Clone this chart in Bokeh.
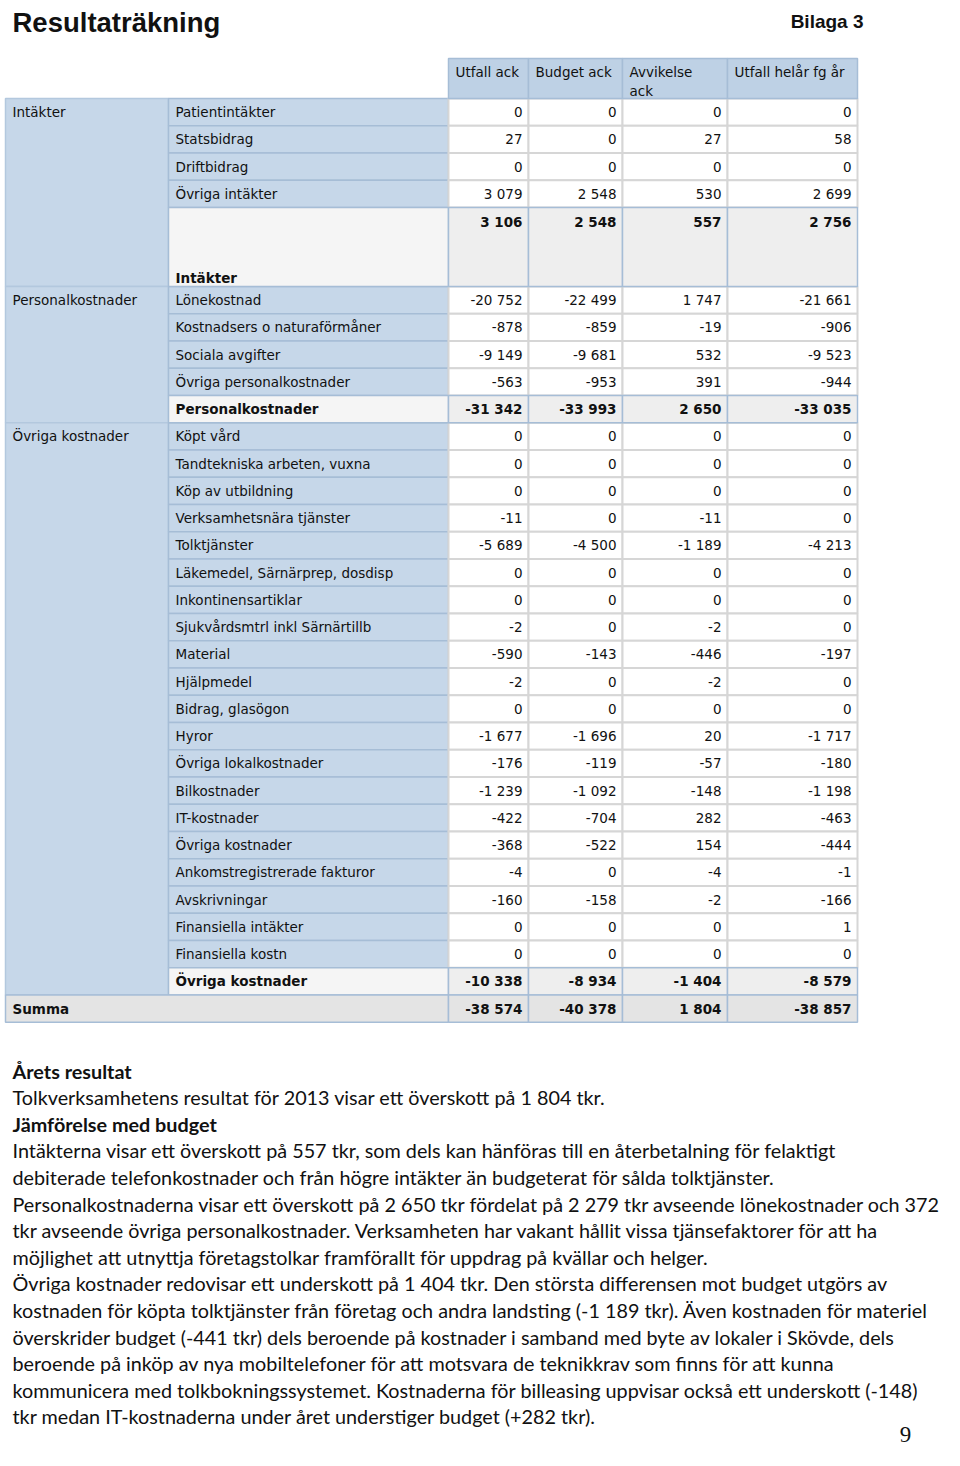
from bokeh.plotting import figure
from bokeh.models import ColumnDataSource, Range1d
from bokeh.core.properties import value
from bokeh.embed import file_html
from bokeh.resources import INLINE

# ---------------- data ----------------
TITLE = "Resultaträkning"
APPENDIX = "Bilaga 3"
PAGE_NO = "9"

column_headers = [["Utfall ack"], ["Budget ack"], ["Avvikelse", "ack"], ["Utfall helår fg år"]]

groups = ["Intäkter", "Personalkostnader", "Övriga kostnader"]

row_labels = [
    "Patientintäkter", "Statsbidrag", "Driftbidrag", "Övriga intäkter", "Intäkter",
    "Lönekostnad", "Kostnadsers o naturaförmåner", "Sociala avgifter", "Övriga personalkostnader", "Personalkostnader",
    "Köpt vård", "Tandtekniska arbeten, vuxna", "Köp av utbildning", "Verksamhetsnära tjänster", "Tolktjänster",
    "Läkemedel, Särnärprep, dosdisp", "Inkontinensartiklar", "Sjukvårdsmtrl inkl Särnärtillb", "Material",
    "Hjälpmedel", "Bidrag, glasögon", "Hyror", "Övriga lokalkostnader", "Bilkostnader", "IT-kostnader",
    "Övriga kostnader", "Ankomstregistrerade fakturor", "Avskrivningar", "Finansiella intäkter",
    "Finansiella kostn", "Övriga kostnader",
]
row_group = [0] * 5 + [1] * 5 + [2] * 21
row_is_sum = [False] * 4 + [True] + [False] * 4 + [True] + [False] * 20 + [True]

utfall_ack = [0, 27, 0, 3079, 3106,
              -20752, -878, -9149, -563, -31342,
              0, 0, 0, -11, -5689, 0, 0, -2, -590, -2, 0, -1677, -176, -1239, -422, -368, -4, -160, 0, 0, -10338]
budget_ack = [0, 0, 0, 2548, 2548,
              -22499, -859, -9681, -953, -33993,
              0, 0, 0, 0, -4500, 0, 0, 0, -143, 0, 0, -1696, -119, -1092, -704, -522, 0, -158, 0, 0, -8934]
avvikelse_ack = [0, 27, 0, 530, 557,
                 1747, -19, 532, 391, 2650,
                 0, 0, 0, -11, -1189, 0, 0, -2, -446, -2, 0, 20, -57, -148, 282, 154, -4, -2, 0, 0, -1404]
utfall_helar_fg_ar = [0, 58, 0, 2699, 2756,
                      -21661, -906, -9523, -944, -33035,
                      0, 0, 0, 0, -4213, 0, 0, 0, -197, 0, 0, -1717, -180, -1198, -463, -444, -1, -166, 1, 0, -8579]

summa_label = "Summa"
summa_values = [-38574, -40378, 1804, -38857]

body_lines = [
    ("Årets resultat", True),
    ("Tolkverksamhetens resultat för 2013 visar ett överskott på 1 804 tkr.", False),
    ("Jämförelse med budget", True),
    ("Intäkterna visar ett överskott på 557 tkr, som dels kan hänföras till en återbetalning för felaktigt", False),
    ("debiterade telefonkostnader och från högre intäkter än budgeterat för sålda tolktjänster.", False),
    ("Personalkostnaderna visar ett överskott på 2 650 tkr fördelat på 2 279 tkr avseende lönekostnader och 372", False),
    ("tkr avseende övriga personalkostnader. Verksamheten har vakant hållit vissa tjänsefaktorer för att ha", False),
    ("möjlighet att utnyttja företagstolkar framförallt för uppdrag på kvällar och helger.", False),
    ("Övriga kostnader redovisar ett underskott på 1 404 tkr. Den största differensen mot budget utgörs av", False),
    ("kostnaden för köpta tolktjänster från företag och andra landsting (-1 189 tkr). Även kostnaden för materiel", False),
    ("överskrider budget (-441 tkr) dels beroende på kostnader i samband med byte av lokaler i Skövde, dels", False),
    ("beroende på inköp av nya mobiltelefoner för att motsvara de teknikkrav som finns för att kunna", False),
    ("kommunicera med tolkbokningssystemet. Kostnaderna för billeasing uppvisar också ett underskott (-148)", False),
    ("tkr medan IT-kostnaderna under året understiger budget (+282 tkr).", False),
]

# ---------------- layout ----------------
W, H = 944, 1450
X_GROUP, X_LABEL = 5, 168
COL_EDGES = [448, 528, 622, 727, 857]
HEADER_TOP, HEADER_BOT = 58, 98
ROW_H = 27.25
TALL_ROWS = {4}
TALL_H = 79

TFONT = value("DejaVu Sans")
TSIZE = value("13.5px")
BFONT = value("Lato")
BSIZE = value("19.8px")

BLUE = "#c6d7e9"
BLUE_LINE = "#a6bdd6"
GROUP_LINE = "#b3c8de"
HEAD_BLUE = "#bed1e5"
GRAY_SUM_LABEL = "#f5f5f5"
GRAY_SUM = "#eeeeee"
GRAY_TOT = "#e4e4e4"
GRID_GRAY = "#d6d6d6"
TXT = "#111111"


def fmt(v):
    s = f"{abs(v):,}".replace(",", " ")
    return ("-" if v < 0 else "") + s


p = figure(width=W, height=H, output_backend="svg", toolbar_location=None,
           x_range=Range1d(0, W), y_range=Range1d(H, 0),
           x_axis_type=None, y_axis_type=None, min_border=0,
           background_fill_color="white", border_fill_color="white")
p.grid.visible = False
p.outline_line_color = None

# row geometry
tops, bots = [], []
y = HEADER_BOT
for i in range(len(row_labels)):
    h = TALL_H if i in TALL_ROWS else ROW_H
    tops.append(y)
    bots.append(y + h)
    y += h
summa_top, summa_bot = y, y + ROW_H

# group column cells
g_top, g_bot, g_first = [], [], []
for g in range(len(groups)):
    idx = [i for i, gg in enumerate(row_group) if gg == g]
    g_top.append(tops[idx[0]])
    g_bot.append(bots[idx[-1]])
    g_first.append(idx[0])
p.quad(left=[X_GROUP] * len(groups), right=[X_LABEL] * len(groups), top=g_top, bottom=g_bot,
       fill_color=BLUE, line_color=GROUP_LINE, line_width=1.5)

# label cells
item_i = [i for i in range(len(row_labels)) if not row_is_sum[i]]
sum_i = [i for i in range(len(row_labels)) if row_is_sum[i]]
p.quad(left=[X_LABEL] * len(item_i), right=[COL_EDGES[0]] * len(item_i),
       top=[tops[i] for i in item_i], bottom=[bots[i] for i in item_i],
       fill_color=BLUE, line_color=BLUE_LINE, line_width=1.5)

# number cells (items)
L, R, T, B = [], [], [], []
for i in item_i:
    for c in range(4):
        L.append(COL_EDGES[c]); R.append(COL_EDGES[c + 1]); T.append(tops[i]); B.append(bots[i])
p.quad(left=L, right=R, top=T, bottom=B, fill_color="white", line_color=GRID_GRAY, line_width=2)

# sum rows: label cell and number cells
p.quad(left=[X_LABEL] * len(sum_i), right=[COL_EDGES[0]] * len(sum_i),
       top=[tops[i] for i in sum_i], bottom=[bots[i] for i in sum_i],
       fill_color=GRAY_SUM_LABEL, line_color=BLUE_LINE, line_width=1.5)
L, R, T, B = [], [], [], []
for i in sum_i:
    for c in range(4):
        L.append(COL_EDGES[c]); R.append(COL_EDGES[c + 1]); T.append(tops[i]); B.append(bots[i])
p.quad(left=L, right=R, top=T, bottom=B, fill_color=GRAY_SUM, line_color=BLUE_LINE, line_width=1.5)

# summa row
p.quad(left=[X_GROUP] + COL_EDGES[:-1], right=COL_EDGES, top=[summa_top] * 5, bottom=[summa_bot] * 5,
       fill_color=GRAY_TOT, line_color=BLUE_LINE, line_width=1.5)

# header cells
p.quad(left=COL_EDGES[:-1], right=COL_EDGES[1:], top=[HEADER_TOP] * 4, bottom=[HEADER_BOT] * 4,
       fill_color=HEAD_BLUE, line_color=BLUE_LINE, line_width=1.5)

# header texts
hx, hy, ht = [], [], []
for c, lines in enumerate(column_headers):
    for k, t in enumerate(lines):
        hx.append(COL_EDGES[c] + 7); hy.append(HEADER_TOP + 13 + 19 * k); ht.append(t)
p.text(x=hx, y=hy, text=ht, text_font=TFONT, text_font_size=TSIZE, text_color=TXT,
       text_align="left", text_baseline="middle")

# group texts
gy = [tops[g_first[g]] + ROW_H / 2 for g in range(len(groups))]
p.text(x=[12] * len(groups), y=gy, text=groups, text_font=TFONT, text_font_size=TSIZE, text_color=TXT,
       text_align="left", text_baseline="middle")


def label_y(i):
    if i in TALL_ROWS:
        return bots[i] - 9
    return (tops[i] + bots[i]) / 2


def num_y(i):
    if i in TALL_ROWS:
        return tops[i] + 14
    return (tops[i] + bots[i]) / 2


p.text(x=[175] * len(item_i), y=[label_y(i) for i in item_i], text=[row_labels[i] for i in item_i],
       text_font=TFONT, text_font_size=TSIZE, text_color=TXT, text_align="left", text_baseline="middle")
p.text(x=[175] * len(sum_i), y=[label_y(i) for i in sum_i], text=[row_labels[i] for i in sum_i],
       text_font=TFONT, text_font_size=TSIZE, text_font_style="bold", text_color=TXT,
       text_align="left", text_baseline="middle")

series = [utfall_ack, budget_ack, avvikelse_ack, utfall_helar_fg_ar]
nx, ny, nt, bx, by, bt = [], [], [], [], [], []
for c, s in enumerate(series):
    for i, v in enumerate(s):
        if row_is_sum[i]:
            bx.append(COL_EDGES[c + 1] - 6); by.append(num_y(i)); bt.append(fmt(v))
        else:
            nx.append(COL_EDGES[c + 1] - 6); ny.append(num_y(i)); nt.append(fmt(v))
    bx.append(COL_EDGES[c + 1] - 6); by.append((summa_top + summa_bot) / 2); bt.append(fmt(summa_values[c]))
p.text(x=nx, y=ny, text=nt, text_font=TFONT, text_font_size=TSIZE, text_color=TXT,
       text_align="right", text_baseline="middle")
p.text(x=bx, y=by, text=bt, text_font=TFONT, text_font_size=TSIZE, text_font_style="bold", text_color=TXT,
       text_align="right", text_baseline="middle")
p.text(x=[12], y=[(summa_top + summa_bot) / 2], text=[summa_label], text_font=TFONT, text_font_size=TSIZE,
       text_font_style="bold", text_color=TXT, text_align="left", text_baseline="middle")

# title
p.text(x=[12], y=[22], text=[TITLE], text_font=value("Liberation Sans"), text_font_size=value("27.5px"),
       text_font_style="bold", text_color=TXT, text_align="left", text_baseline="alphabetic")
p.text(x=[863], y=[21], text=[APPENDIX], text_font=value("Liberation Sans"), text_font_size=value("19px"),
       text_font_style="bold", text_color=TXT, text_align="right", text_baseline="alphabetic")

# body text
BODY_TOP = 1070
BODY_STEP = 26.6
for k, (t, bold) in enumerate(body_lines):
    p.text(x=[12], y=[BODY_TOP + BODY_STEP * k], text=[t], text_font=BFONT, text_font_size=BSIZE,
           text_font_style="bold" if bold else "normal", text_color=TXT,
           text_align="left", text_baseline="middle")

# page number
p.text(x=[905], y=[1434], text=[PAGE_NO], text_font=value("Liberation Serif"), text_font_size=value("23px"),
       text_color=TXT, text_align="center", text_baseline="middle")

open("out.html", "w").write(file_html(p, INLINE))
